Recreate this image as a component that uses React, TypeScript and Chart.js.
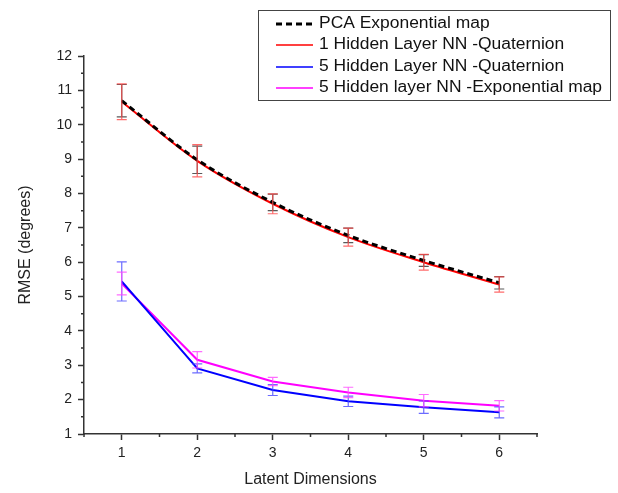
import React, { useEffect, useRef } from "react";
import { Chart, registerables } from "chart.js";

Chart.register(...registerables);

const latentDims = [1, 2, 3, 4, 5, 6];
const xTickLabels = ["1", "2", "3", "4", "5", "6"];
const yTickValues = [1, 2, 3, 4, 5, 6, 7, 8, 9, 10, 11, 12];

const seriesNames = [
  "PCA Exponential map",
  "1 Hidden Layer NN -Quaternion",
  "5 Hidden Layer NN -Quaternion",
  "5 Hidden layer NN -Exponential map",
];

const pcaExp = [10.7, 8.98, 7.74, 6.78, 6.05, 5.4];
const pcaExpErr = [0.47, 0.4, 0.24, 0.21, 0.17, 0.18];
const nn1Quat = [10.67, 8.95, 7.7, 6.73, 6.0, 5.35];
const nn1QuatErr = [0.52, 0.47, 0.29, 0.26, 0.23, 0.22];
const nn5Quat = [5.44, 2.91, 2.28, 1.95, 1.78, 1.63];
const nn5QuatErr = [0.57, 0.13, 0.16, 0.15, 0.18, 0.16];
const nn5Exp = [5.38, 3.16, 2.53, 2.21, 1.97, 1.82];
const nn5ExpErr = [0.33, 0.24, 0.12, 0.15, 0.18, 0.15];

const FONT = "'Liberation Sans', Arial, sans-serif";

const errorBarPlugin = {
  id: "errorBars",
  afterDatasetsDraw(chart: any) {
    const ctx = chart.ctx;
    const xs = chart.scales.x;
    const ys = chart.scales.y;
    chart.data.datasets.forEach((ds: any) => {
      const errs: number[] = ds.errors;
      if (!errs) return;
      ctx.save();
      ctx.strokeStyle = ds.errorColor;
      ctx.lineWidth = 1.2;
      ds.data.forEach((p: any, i: number) => {
        const x = xs.getPixelForValue(p.x);
        const yt = ys.getPixelForValue(p.y + errs[i]);
        const yb = ys.getPixelForValue(p.y - errs[i]);
        ctx.beginPath();
        ctx.moveTo(x, yt);
        ctx.lineTo(x, yb);
        ctx.moveTo(x - 5, yt);
        ctx.lineTo(x + 5, yt);
        ctx.moveTo(x - 5, yb);
        ctx.lineTo(x + 5, yb);
        ctx.stroke();
      });
      ctx.restore();
    });
  },
};

const minorTickPlugin = {
  id: "minorTicks",
  afterDraw(chart: any) {
    const ctx = chart.ctx;
    const xs = chart.scales.x;
    const ys = chart.scales.y;
    const area = chart.chartArea;
    ctx.save();
    ctx.strokeStyle = "#333";
    ctx.lineWidth = 1.5;
    ctx.beginPath();
    for (let v = xs.min; v <= xs.max + 1e-9; v += 1) {
      const x = xs.getPixelForValue(v);
      ctx.moveTo(x, area.bottom);
      ctx.lineTo(x, area.bottom + 3);
    }
    for (let v = ys.min + 0.5; v < ys.max; v += 1) {
      const y = ys.getPixelForValue(v);
      ctx.moveTo(area.left, y);
      ctx.lineTo(area.left - 3, y);
    }
    ctx.stroke();
    ctx.restore();
  },
};

const legendPlugin = {
  id: "boxLegend",
  afterDraw(chart: any) {
    const ctx = chart.ctx;
    const left = 258.5;
    const top = 10.5;
    const w = 352;
    const h = 90;
    ctx.save();
    ctx.fillStyle = "#ffffff";
    ctx.fillRect(left, top, w, h);
    ctx.strokeStyle = "#444";
    ctx.lineWidth = 1;
    ctx.strokeRect(left, top, w, h);
    const rows = [24, 45, 67, 88];
    chart.data.datasets.forEach((ds: any, i: number) => {
      const y = rows[i];
      ctx.beginPath();
      ctx.strokeStyle = ds.borderColor;
      ctx.lineWidth = ds.borderDash ? 3 : 1.6;
      ctx.setLineDash(ds.borderDash || []);
      ctx.moveTo(276, y);
      ctx.lineTo(313, y);
      ctx.stroke();
      ctx.setLineDash([]);
      ctx.save();
      ctx.translate(319, y);
      ctx.scale(1.09, 1);
      ctx.fillStyle = "#111";
      ctx.font = `16px ${FONT}`;
      ctx.textBaseline = "middle";
      ctx.textAlign = "left";
      ctx.fillText(ds.label, 0, 0);
      ctx.restore();
    });
    ctx.restore();
  },
};

const toPoints = (vals: number[]) => vals.map((v, i) => ({ x: latentDims[i], y: v }));

export default function App() {
  const ref = useRef<HTMLCanvasElement | null>(null);
  useEffect(() => {
    if (!ref.current) return;
    const chart = new Chart(ref.current, {
      type: "line",
      data: {
        datasets: [
          {
            label: seriesNames[0],
            data: toPoints(pcaExp),
            borderColor: "#000000",
            borderWidth: 3,
            borderDash: [6, 4],
            cubicInterpolationMode: "monotone",
            pointRadius: 0,
            errors: pcaExpErr,
            errorColor: "rgba(60,60,60,0.85)",
            order: 0,
          } as any,
          {
            label: seriesNames[1],
            data: toPoints(nn1Quat),
            borderColor: "#ff0000",
            borderWidth: 2,
            cubicInterpolationMode: "monotone",
            pointRadius: 0,
            errors: nn1QuatErr,
            errorColor: "rgba(255,70,70,0.8)",
            order: 1,
          } as any,
          {
            label: seriesNames[2],
            data: toPoints(nn5Quat),
            borderColor: "#0000ff",
            borderWidth: 2,
            pointRadius: 0,
            errors: nn5QuatErr,
            errorColor: "rgba(70,70,255,0.8)",
            order: 2,
          } as any,
          {
            label: seriesNames[3],
            data: toPoints(nn5Exp),
            borderColor: "#ff00ff",
            borderWidth: 2,
            pointRadius: 0,
            errors: nn5ExpErr,
            errorColor: "rgba(255,70,255,0.8)",
            order: 3,
          } as any,
        ],
      },
      options: {
        animation: false,
        responsive: true,
        maintainAspectRatio: false,
        layout: { padding: { top: 56, right: 81, left: 0, bottom: 0 } },
        plugins: {
          legend: { display: false },
          tooltip: { enabled: false },
        },
        scales: {
          x: {
            type: "linear",
            min: 0.5,
            max: 6.5,
            afterBuildTicks: (s: any) => {
              s.ticks = latentDims.map((v) => ({ value: v }));
            },
            afterFit: (s: any) => {
              s.height = 59;
            },
            ticks: {
              callback: (v: any) => xTickLabels[latentDims.indexOf(Number(v))] ?? "",
              font: { family: FONT, size: 14 },
              color: "#222",
              padding: 5,
            },
            grid: {
              display: true,
              drawOnChartArea: false,
              drawTicks: true,
              tickLength: 6,
              tickColor: "#333",
              tickWidth: 1.5,
            },
            border: { display: true, color: "#333", width: 1.5 },
            title: {
              display: true,
              text: "Latent Dimensions",
              font: { family: FONT, size: 16 },
              color: "#222",
              padding: { top: 0, bottom: 4 },
            },
          },
          y: {
            type: "linear",
            min: 1,
            max: 12,
            afterBuildTicks: (s: any) => {
              s.ticks = yTickValues.map((v) => ({ value: v }));
            },
            afterFit: (s: any) => {
              s.width = 84;
            },
            ticks: {
              font: { family: FONT, size: 14 },
              color: "#222",
              padding: 6,
            },
            grid: {
              display: true,
              drawOnChartArea: false,
              drawTicks: true,
              tickLength: 6,
              tickColor: "#333",
              tickWidth: 1.5,
            },
            border: { display: true, color: "#333", width: 1.5 },
            title: {
              display: true,
              text: "RMSE (degrees)",
              font: { family: FONT, size: 16 },
              color: "#222",
              padding: { top: 16, bottom: 0 },
            },
          },
        },
      },
      plugins: [errorBarPlugin, minorTickPlugin, legendPlugin],
    });
    return () => chart.destroy();
  }, []);
  return (
    <div style={{ position: "absolute", left: 0, top: 0, width: 618, height: 493 }}>
      <canvas ref={ref} />
    </div>
  );
}
